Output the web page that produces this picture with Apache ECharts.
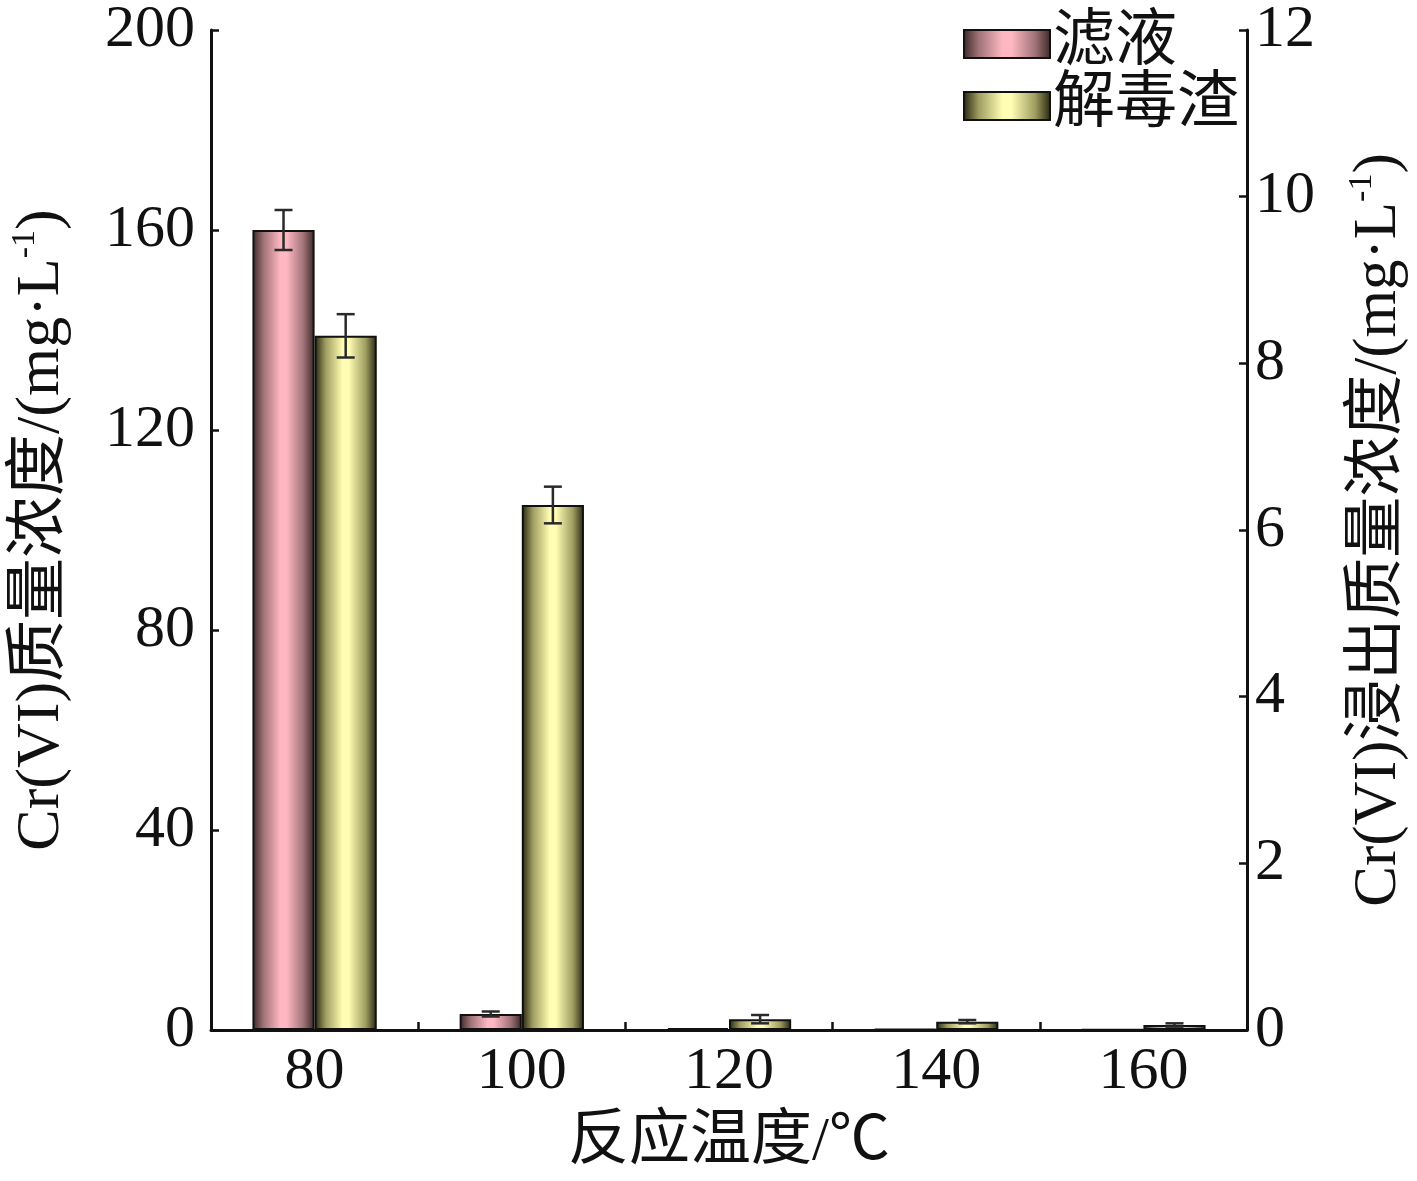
<!DOCTYPE html>
<html><head><meta charset="utf-8">
<script src="https://cdn.jsdelivr.net/npm/echarts@6/dist/echarts.min.js"></script>
<style>html,body{margin:0;padding:0;background:#fff}#c{width:1417px;height:1181px}</style>
</head><body><div id="c"></div>
<script>
const categories = ['80', '100', '120', '140', '160'];
const filtrateValues = [160, 3.2, 0.4, 0.2, 0.1];        // 滤液, left axis
const filtrateErrors = [4, 0.5, 0, 0, 0];
const residueValues = [8.33, 6.3, 0.13, 0.1, 0.06];       // 解毒渣, right axis
const residueErrors = [0.26, 0.22, 0.05, 0.02, 0.02];
const leftTicks = {min: 0, max: 200, interval: 40};
const rightTicks = {min: 0, max: 12, interval: 2};

const FONT = '"Liberation Serif", "Noto Sans CJK SC", serif';
const chart = echarts.init(document.getElementById('c'));

function grad(edge, mid, center) {
  return new echarts.graphic.LinearGradient(0, 0, 1, 0, [
    {offset: 0, color: edge}, {offset: 0.18, color: mid},
    {offset: 0.45, color: center}, {offset: 0.55, color: center},
    {offset: 0.82, color: mid}, {offset: 1, color: edge}
  ]);
}
const pinkGrad = grad('#3a2626', '#a07378', '#ffb8c2');
const yellowGrad = grad('#24230f', '#a09e60', '#fffcb4');

function errData(vals, errs) {
  return vals.map((v, i) => [i, v - errs[i], v + errs[i], errs[i]]);
}
function errRender(offsetFrac) {
  return function (params, api) {
    if (api.value(3) <= 0) return;
    const band = api.size([1, 0])[0];
    const lo = api.coord([api.value(0), api.value(1)]);
    const hi = api.coord([api.value(0), api.value(2)]);
    const x = lo[0] + band * offsetFrac;
    const cap = 9;
    const st = {stroke: '#2a2a2a', lineWidth: 2.5};
    return {type: 'group', children: [
      {type: 'line', shape: {x1: x, y1: lo[1], x2: x, y2: hi[1]}, style: st},
      {type: 'line', shape: {x1: x - cap, y1: lo[1], x2: x + cap, y2: lo[1]}, style: st},
      {type: 'line', shape: {x1: x - cap, y1: hi[1], x2: x + cap, y2: hi[1]}, style: st}
    ]};
  };
}

const axisCommon = {
  axisLine: {show: true, lineStyle: {color: '#111', width: 3}},
  axisTick: {show: true, inside: true, length: 8, lineStyle: {color: '#111', width: 2.5}},
  splitLine: {show: false},
  axisLabel: {color: '#111', fontFamily: FONT, fontSize: 60}
};
function nameRich(size) {
  return {
    n: {fontFamily: FONT, fontSize: size, color: '#111', lineHeight: size + 6},
    sup: {fontFamily: FONT, fontSize: 34, color: '#111', lineHeight: size + 6, verticalAlign: 'top', padding: [0, 0, 24, 0]}
  };
}

chart.setOption({
  animation: false,
  backgroundColor: '#fff',
  grid: {left: 207, right: 158, top: 25, bottom: 151},
  legend: {
    orient: 'vertical', left: 958, top: 8, itemWidth: 86, itemHeight: 28, itemGap: 0,
    icon: 'rect',
    data: ['滤液', '解毒渣'],
    textStyle: {fontFamily: FONT, fontSize: 62, color: '#111', padding: [0, 0, 0, -2]}
  },
  xAxis: {
    type: 'category', data: categories,
    name: '反应温度/℃', nameLocation: 'middle', nameGap: 82,
    nameTextStyle: {fontFamily: FONT, fontSize: 61, color: '#111'},
    axisLine: {show: true, onZero: false, lineStyle: {color: '#111', width: 3}},
    axisTick: {show: true, inside: true, length: 8, lineStyle: {color: '#111', width: 2.5}},
    axisLabel: {color: '#111', fontFamily: FONT, fontSize: 60, margin: 12}
  },
  yAxis: [
    Object.assign({}, axisCommon, {
      type: 'value', position: 'left', min: leftTicks.min, max: leftTicks.max, interval: leftTicks.interval,
      name: '{n|Cr(VI)质量浓度/(mg·L}{sup|-1}{n|)}', nameLocation: 'middle', nameGap: 135, nameRotate: 90,
      nameTextStyle: {rich: nameRich(62)},
      axisLabel: Object.assign({}, axisCommon.axisLabel, {margin: 16})
    }),
    Object.assign({}, axisCommon, {
      type: 'value', position: 'right', min: rightTicks.min, max: rightTicks.max, interval: rightTicks.interval,
      name: '{n|Cr(VI)浸出质量浓度/(mg·L}{sup|-1}{n|)}', nameLocation: 'middle', nameGap: 98, nameRotate: 90,
      nameTextStyle: {rich: nameRich(61)},
      axisLabel: Object.assign({}, axisCommon.axisLabel, {margin: 8})
    })
  ],
  series: [
    {name: '滤液', type: 'bar', yAxisIndex: 0, data: filtrateValues, barWidth: '30%', barGap: '0%',
     itemStyle: {color: pinkGrad, borderColor: '#111', borderWidth: 2}},
    {name: '解毒渣', type: 'bar', yAxisIndex: 1, data: residueValues, barWidth: '30%', barGap: '0%',
     itemStyle: {color: yellowGrad, borderColor: '#111', borderWidth: 2}},
    {type: 'custom', yAxisIndex: 0, data: errData(filtrateValues, filtrateErrors),
     renderItem: errRender(-0.15), encode: {x: 0, y: [1, 2]}, z: 10},
    {type: 'custom', yAxisIndex: 1, data: errData(residueValues, residueErrors),
     renderItem: errRender(0.15), encode: {x: 0, y: [1, 2]}, z: 10}
  ]
});
</script></body></html>
